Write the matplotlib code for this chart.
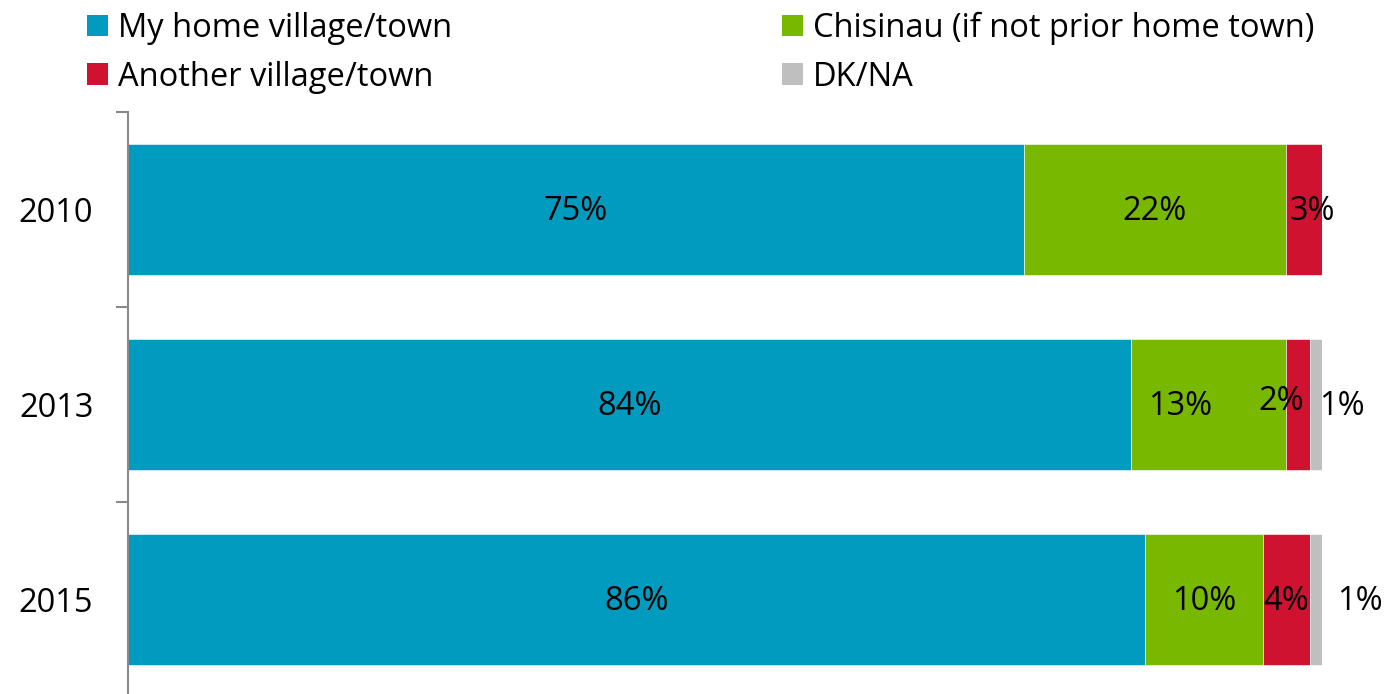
import numpy as np
import matplotlib.pyplot as plt
from matplotlib.patches import Patch

plt.rcParams['font.family'] = ['Open Sans', 'DejaVu Sans']

# Survey data (percent of respondents), 100% stacked per year
years = ['2010', '2013', '2015']
series = ['My home village/town', 'Chisinau (if not prior home town)',
          'Another village/town', 'DK/NA']
home = [75, 84, 86]
chisinau = [22, 13, 10]
another = [3, 2, 4]
dkna = [0, 1, 1]
colors = ['#009BBF', '#78B800', '#CE1230', '#BFBFBF']

values = np.array([home, chisinau, another, dkna], dtype=float)
shares = values / values.sum(axis=0) * 100  # excel normalises to 100%

# small nudges for labels that excel moved off-centre (dx in %, dy in bars)
nudge = {(0, 2): (0.7, 0), (1, 1): (-2.35, 0), (1, 2): (-1.4, -0.025),
         (1, 3): (2.2, 0), (2, 3): (3.7, 0)}

fs = 23.5

fig = plt.figure(figsize=(13.96, 6.94), dpi=100)
ax = fig.add_axes([128 / 1396, -3 / 694, 1194 / 1396, 585 / 694])

ypos = np.arange(len(years))
left = np.zeros(len(years))
for i, name in enumerate(series):
    ax.barh(ypos, shares[i], left=left, height=0.667, color=colors[i],
            edgecolor='white', linewidth=0.4, label=name)
    for j in range(len(years)):
        if values[i, j] == 0:
            continue
        dx, dy = nudge.get((j, i), (0, 0))
        x = left[j] + shares[i, j] / 2 + dx
        ax.text(x, ypos[j] + dy + 0.012, '%d%%' % values[i, j], ha='center',
                va='center', fontsize=fs, color='black')
    left = left + shares[i]

ax.set_xlim(0, 100)
ax.set_ylim(2.5, -0.5)
ax.set_yticks(ypos)
ax.set_yticklabels(years, fontsize=fs)
ax.set_yticks(np.arange(-0.5, 3, 1), minor=True)
ax.tick_params(axis='y', which='major', length=0, pad=25)
ax.tick_params(axis='y', which='minor', length=9, width=1.5, color='#898989')
ax.set_xticks([])
for s in ['top', 'right', 'bottom']:
    ax.spines[s].set_visible(False)
ax.spines['left'].set_color('#898989')
ax.spines['left'].set_linewidth(1.5)

# legend: col 1 blue/red, col 2 green/gray
order = [0, 2, 1, 3]
handles = [Patch(facecolor=colors[k], label=series[k]) for k in order]
fig.legend(handles=handles, ncol=2, loc='upper left',
           bbox_to_anchor=(74 / 1396, 1.002), frameon=False, fontsize=fs,
           handlelength=0.65, handleheight=0.65, handletextpad=0.3,
           columnspacing=10.1, labelspacing=0.48, borderaxespad=0.0)

fig.savefig('out.png', dpi=100)
